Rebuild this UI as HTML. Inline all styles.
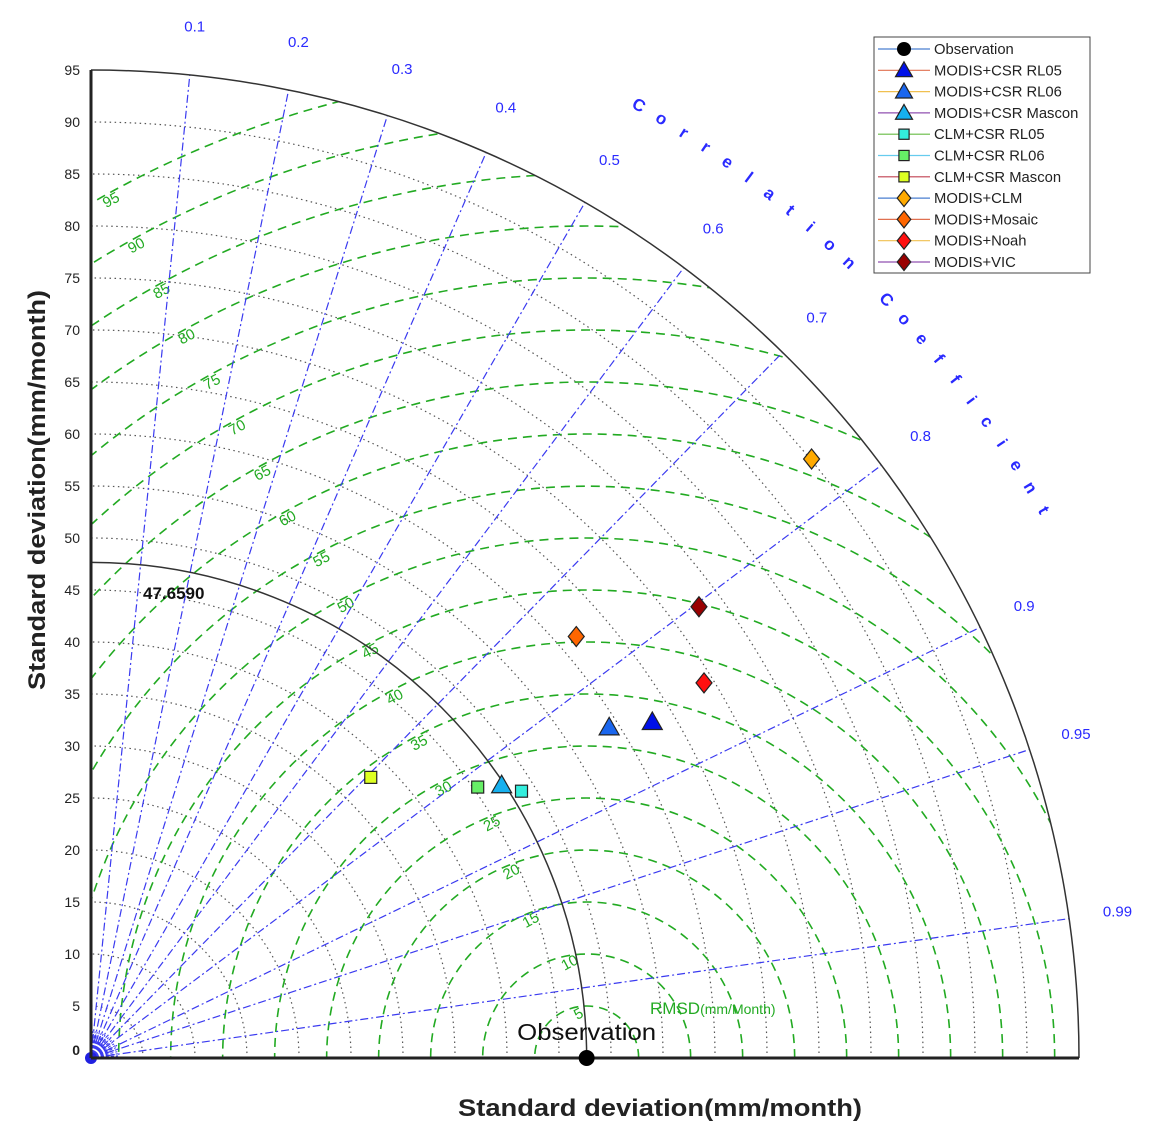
<!DOCTYPE html>
<html><head><meta charset="utf-8"><style>
body{margin:0;background:#fff}
svg{display:block;font-family:"Liberation Sans",sans-serif}
</style></head><body>
<svg id="c" width="1157" height="1139" viewBox="0 0 1157 1139" xmlns="http://www.w3.org/2000/svg"></svg>
<script>
const names=["MODIS+CSR RL05","MODIS+CSR RL06","MODIS+CSR Mascon","CLM+CSR RL05","CLM+CSR RL06","CLM+CSR Mascon","MODIS+CLM","MODIS+Mosaic","MODIS+Noah","MODIS+VIC"];
const stdValues=[62.9,59.1,47.4,48.7,45.4,38.1,90.1,61.8,69.1,72.8];
const corrValues=[0.858,0.843,0.833,0.850,0.819,0.706,0.769,0.755,0.853,0.803];
const shapes=["tri","tri","tri","sq","sq","sq","dia","dia","dia","dia"];
const fills=["#0010e8","#1a66ee","#16b0ee","#33eedd","#66ee66","#ddff22","#ffaa00","#ff6600","#ff1010","#990000"];
const legendLineColors=["#4a7fd0","#e07050","#f0c050","#9050b0","#66bb44","#66ccee","#c04050","#4a7fd0","#e07050","#f0c050","#9050b0"];
const obsStd=47.659;
const corrTicks=[0.1,0.2,0.3,0.4,0.5,0.6,0.7,0.8,0.9,0.95,0.99];
const stdTicks=[0,5,10,15,20,25,30,35,40,45,50,55,60,65,70,75,80,85,90,95];
const rmsTicks=[5,10,15,20,25,30,35,40,45,50,55,60,65,70,75,80,85,90,95];
const maxStd=95;

const NS="http://www.w3.org/2000/svg";
const svg=document.getElementById('c');
const ox=91,oy=1058,k=10.4;
const X=(s,c)=>ox+s*c*k, Y=(s,c)=>oy-s*Math.sqrt(1-c*c)*k;
function el(t,a,p){const e=document.createElementNS(NS,t);for(const n in a)e.setAttribute(n,a[n]);(p||svg).appendChild(e);return e;}
function txt(s,a,p){const e=el('text',a,p);e.textContent=s;return e;}

const defs=el('defs',{});
const cp=el('clipPath',{id:'q'},defs);
el('path',{d:`M${ox},${oy} L${ox+maxStd*k},${oy} A${maxStd*k},${maxStd*k} 0 0 0 ${ox},${oy-maxStd*k} Z`},cp);

const g1=el('g',{});

stdTicks.forEach(s=>{if(s<=0||s>=maxStd)return;const r=s*k;
 const a=el('path',{d:`M${ox+r},${oy} A${r},${r} 0 0 0 ${ox},${oy-r}`,fill:'none',stroke:'#555',"stroke-width":1.2,"stroke-dasharray":"1.5 3.5"},g1);
 });

const g2=el('g',{"clip-path":'url(#q)'});

const obx=ox+obsStd*k;
rmsTicks.forEach(r0=>{const r=r0*k;
 const a=el('path',{d:`M${obx+r},${oy} A${r},${r} 0 0 0 ${obx-r},${oy}`,fill:'none',stroke:'#22aa22',"stroke-width":1.6,"stroke-dasharray":"9 6"},g2);
 });
rmsTicks.forEach(r0=>{const ang=(r0<15?100:(r0<30?112:(r0<60?118:119)))*Math.PI/180;const r=r0*k-8;
 const x=obx+r*Math.cos(ang),y=oy-r*Math.sin(ang);
 if(Math.hypot(x-ox,oy-y)>maxStd*k)return;
 const t=txt(String(r0),{x:x,y:y,fill:'#22aa22',"font-size":15,"text-anchor":'middle',"dominant-baseline":'middle',transform:`rotate(-28 ${x} ${y})`});
 });

const g3=el('g',{});

corrTicks.forEach(c=>{
 const l=el('line',{x1:ox,y1:oy,x2:X(maxStd,c),y2:Y(maxStd,c),stroke:'#3a3af0',"stroke-width":1.2,"stroke-dasharray":"8 3 2 3"},g3);
 
 const t=txt(String(c),{x:X(99.7,c),y:Y(99.7,c)+5,fill:'#2a2aff',"font-size":15,"text-anchor":'middle'},g3);
 });
for(let i=1;i<40;i++){const a=i*Math.PI/80;const r=(i%2?1.6:2.6)*k;
 const l=el('line',{x1:ox,y1:oy,x2:ox+r*Math.cos(a),y2:oy-r*Math.sin(a),stroke:'#3a3af0',"stroke-width":1,"stroke-dasharray":"3 2"},g3);
 }
el('circle',{cx:ox,cy:oy,r:6,fill:'#2020e0'},g3);

const oa=el('path',{d:`M${ox+maxStd*k},${oy} A${maxStd*k},${maxStd*k} 0 0 0 ${ox},${oy-maxStd*k}`,fill:'none',stroke:'#333',"stroke-width":1.5});

const obr=obsStd*k;
const oarc=el('path',{d:`M${ox+obr},${oy} A${obr},${obr} 0 0 0 ${ox},${oy-obr}`,fill:'none',stroke:'#333',"stroke-width":1.5});

const ya=el('line',{x1:ox,y1:oy,x2:ox,y2:oy-maxStd*k,stroke:'#222',"stroke-width":3});

const xa=el('line',{x1:ox,y1:oy,x2:ox+maxStd*k,y2:oy,stroke:'#222',"stroke-width":3});

stdTicks.forEach(s=>{const t=txt(String(s),{x:80,y:oy-s*k+(s===0?-3:5),"font-size":14,"text-anchor":'end',fill:'#222',"font-weight":s===0?'bold':'normal'});
 });

const ol=txt(obsStd.toFixed(4),{x:143,y:599,"font-size":17,"font-weight":'bold',fill:'#111'});


const yt=txt('Standard deviation(mm/month)',{x:45,y:490,"font-size":24,"font-weight":'bold',fill:'#222',"text-anchor":'middle',textLength:400,lengthAdjust:'spacingAndGlyphs',transform:'rotate(-90 45 490)'});

const xt=txt('Standard deviation(mm/month)',{x:660,y:1116,"font-size":24,"font-weight":'bold',fill:'#222',"text-anchor":'middle',textLength:404,lengthAdjust:'spacingAndGlyphs'});

const rt=el('text',{x:650,y:1014,fill:'#22aa22'});

rt.innerHTML='<tspan font-size="17">RMSD</tspan><tspan font-size="14">(mm/Month)</tspan>';
const ct="Correlation Coefficient";
const gct=el('g',{});

for(let i=0;i<ct.length;i++){if(ct[i]===' ')continue;const a=(60.1-i*30.2/22)*Math.PI/180;const R=1098;
 const x=ox+R*Math.cos(a),y=oy-R*Math.sin(a);
 txt(ct[i],{x:x,y:y,"font-size":17,"font-weight":'bold',fill:'#2a2aff',"text-anchor":'middle',"dominant-baseline":'middle',transform:`rotate(${90-a*180/Math.PI} ${x} ${y})`},gct);}

const od=el('circle',{cx:obx,cy:oy,r:8,fill:'#000'});

const otx=txt('Observation',{x:obx,y:1040,"font-size":23,"text-anchor":'middle',fill:'#111',textLength:139,lengthAdjust:'spacingAndGlyphs'});


function marker(shape,x,y,fill,p,sc){sc=sc||1;let e;
 if(shape==='tri'){const h=10*sc;e=el('polygon',{points:`${x},${y-h} ${x-h},${y+h*0.75} ${x+h},${y+h*0.75}`},p);}
 else if(shape==='sq'){const h=6*sc;e=el('rect',{x:x-h,y:y-h,width:2*h,height:2*h},p);}
 else {const h=10*sc;e=el('polygon',{points:`${x},${y-h} ${x+h*0.8},${y} ${x},${y+h} ${x-h*0.8},${y}`},p);}
 e.setAttribute('fill',fill);e.setAttribute('stroke','#222');e.setAttribute('stroke-width',1.2);return e;}
const gm=el('g',{});

names.forEach((n,i)=>{const m=marker(shapes[i],X(stdValues[i],corrValues[i]),Y(stdValues[i],corrValues[i]),fills[i],gm);
 
 });

const lg=el('g',{});

el('rect',{x:874,y:37,width:216,height:236,fill:'#fff',stroke:'#444',"stroke-width":1},lg);
const labels=["Observation"].concat(names);
labels.forEach((n,i)=>{const y=49+i*21.3;
 const row=el('g',{},lg);
 
 el('line',{x1:878,y1:y,x2:930,y2:y,stroke:legendLineColors[i],"stroke-width":1.2},row);
 if(i===0)el('circle',{cx:904,cy:y,r:7,fill:'#000'},row);
 else marker(shapes[i-1],904,y,fills[i-1],row,0.85);
 txt(n,{x:934,y:y+5,"font-size":14.8,fill:'#222'},row);});
</script>
</body></html>
